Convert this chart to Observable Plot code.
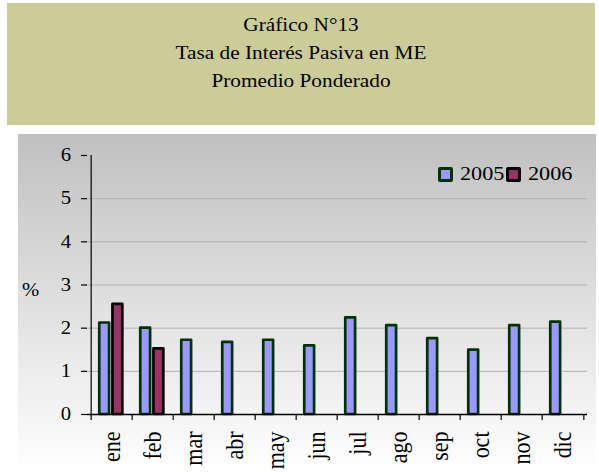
<!DOCTYPE html>
<html>
<head>
<meta charset="utf-8">
<script src="https://cdn.jsdelivr.net/npm/d3@7"></script>
<script src="https://cdn.jsdelivr.net/npm/@observablehq/plot@0.6"></script>
<style>
  html, body { margin: 0; padding: 0; background: #ffffff; }
  #wrap { position: relative; width: 599px; height: 472px; overflow: hidden; font-family: "Liberation Serif", "Times New Roman", serif; color: #000; }
  #title { position: absolute; left: 7px; top: 3px; width: 588px; height: 122px; background: #cccc99; }
  #title div { position: absolute; left: 0; width: 100%; text-align: center; font-size: 19px; line-height: 28px; transform: scaleX(1.12); }
  #chart { position: absolute; left: 18px; top: 134px; }
  #ylab { position: absolute; left: 22px; top: 280px; font-size: 18px; transform: scaleX(1.15); transform-origin: left center; }
  #legend { position: absolute; left: 438px; top: 163px; display: flex; align-items: center; font-size: 19px; }
  .sw { display: inline-block; width: 9px; height: 9px; border: 3px solid; border-radius: 2px; }
  .lt { display: inline-block; transform: scaleX(1.17); transform-origin: left center; margin-left: 7px; }
</style>
</head>
<body>
<div id="wrap">
  <div id="title"></div>
  <div id="chart"></div>
  <div id="ylab"></div>
  <div id="legend"></div>
</div>
<script>
const titleLines = ["Gráfico N°13", "Tasa de Interés Pasiva en ME", "Promedio Ponderado"];
const yAxisTitle = "%";
const months = ["ene", "feb", "mar", "abr", "may", "jun", "jul", "ago", "sep", "oct", "nov", "dic"];
const seriesNames = ["2005", "2006"];
const values2005 = [2.12, 2.00, 1.72, 1.67, 1.72, 1.59, 2.24, 2.06, 1.76, 1.49, 2.06, 2.14];
const values2006 = [2.55, 1.52];
const yTicks = [0, 1, 2, 3, 4, 5, 6];
const gridTicks = [1, 2, 3, 4, 5];
const fills = ["#9999ff", "#993366"];
const strokes = ["#003300", "#000000"];

const data2005 = values2005.map((v, i) => ({month: months[i], value: v}));
const data2006 = values2006.map((v, i) => ({month: months[i], value: v}));

// Title
const t = document.getElementById("title");
titleLines.forEach((s, i) => {
  const d = document.createElement("div");
  d.textContent = s;
  d.style.top = (8 + 28 * i) + "px";
  t.appendChild(d);
});
document.getElementById("ylab").textContent = yAxisTitle;

// Legend
const lg = document.getElementById("legend");
seriesNames.forEach((s, i) => {
  const sw = document.createElement("span");
  sw.className = "sw";
  sw.style.background = fills[i];
  sw.style.borderColor = strokes[i];
  if (i > 0) sw.style.marginLeft = "8px";
  const tx = document.createElement("span");
  tx.className = "lt";
  tx.textContent = s;
  lg.appendChild(sw); lg.appendChild(tx);
});

const W = 578, H = 338;
const ml = 69, mr = 9, mt = 21, mb = 58;
const bw = (W - ml - mr) / months.length;

const plot = Plot.plot({
  width: W,
  height: H,
  marginLeft: ml,
  marginRight: mr,
  marginTop: mt,
  marginBottom: mb,
  style: {
    background: "linear-gradient(#c0c0c0, #ffffff)",
    fontFamily: "'Liberation Serif', 'Times New Roman', serif",
    color: "#000",
    overflow: "visible"
  },
  x: {type: "band", domain: months, padding: 0, label: null},
  y: {domain: [0, 6], label: null},
  marks: [
    Plot.gridY(gridTicks, {stroke: "#b2b2b2", strokeOpacity: 1, strokeWidth: 1}),
    Plot.barY(data2005, {x: "month", y: "value", fill: fills[0], stroke: strokes[0], strokeWidth: 2.7,
      strokeLinejoin: "round", insetLeft: 8.25, insetRight: 22.9}),
    Plot.barY(data2006, {x: "month", y: "value", fill: fills[1], stroke: strokes[1], strokeWidth: 2.7,
      strokeLinejoin: "round", insetLeft: 21.45, insetRight: 9.7}),
    Plot.ruleY([0], {stroke: "#000", strokeWidth: 1.3}),
    Plot.ruleX([months[0]], {y1: 0, y2: 6, dx: -bw / 2, stroke: "#000", strokeWidth: 1.2}),
    Plot.axisY(yTicks, {tickSize: 6, tickPadding: 10.5, fontSize: 18, stroke: "#000", strokeWidth: 1.2, label: null}),
    Plot.axisX(months, {tickSize: 6, tickFormat: () => "", dx: -bw / 2, stroke: "#000", strokeWidth: 1.2, label: null}),
    Plot.axisX([months[months.length - 1]], {tickSize: 6, tickFormat: () => "", dx: bw / 2, stroke: "#000", strokeWidth: 1.2, label: null}),
    Plot.axisX(months, {tickSize: 0, tickPadding: 17, tickRotate: -90, fontSize: 22, label: null})
  ]
});
document.getElementById("chart").appendChild(plot);

// horizontal stretch of glyphs, as in the reference
const sx = 1.15;
plot.querySelectorAll("text").forEach(el => {
  const tr = el.getAttribute("transform");
  if (tr) {
    if (tr.includes("rotate")) el.setAttribute("transform", tr.replace("rotate", `scale(${sx},1) rotate`));
    else el.setAttribute("transform", tr + ` scale(${sx},1)`);
  } else {
    const x = +el.getAttribute("x") || 0, y = +el.getAttribute("y") || 0;
    el.setAttribute("transform", `translate(${x},${y}) scale(${sx},1) translate(${-x},${-y})`);
  }
});
</script>
</body>
</html>
